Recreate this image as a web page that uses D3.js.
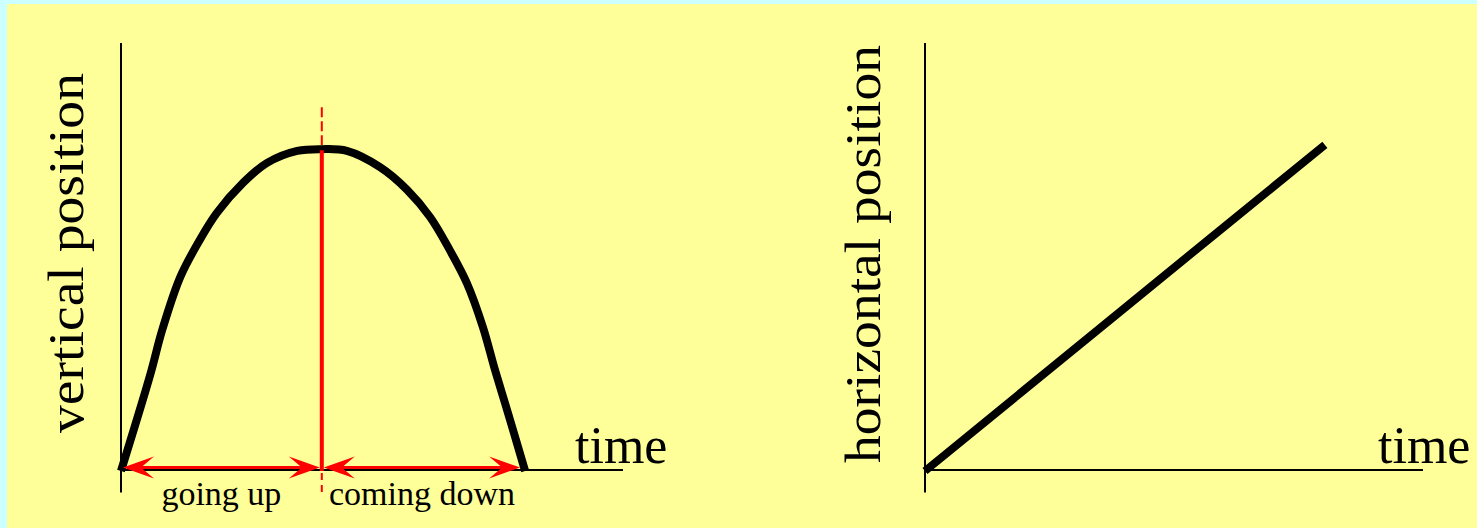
<!DOCTYPE html>
<html>
<head>
<meta charset="utf-8">
<script src="https://cdn.jsdelivr.net/npm/d3@7"></script>
<style>
  html, body { margin: 0; padding: 0; background: #ccffff; }
  svg { display: block; }
  text { font-family: "Liberation Serif", "Times New Roman", serif; fill: #000; }
</style>
</head>
<body>
<svg id="chart" width="1477" height="528"></svg>
<script>
// ---- data ----
// Left panel: vertical position of a thrown object vs time
const upTimes   = [0, 0.58, 0.82, 1.18, 1.57, 1.91, 2.43, 2.91, 3.51, 4.0];
const upValues  = [0, 2.24, 3.29, 4.53, 5.40, 6.03, 6.73, 7.20, 7.48, 7.52];
const downTimes  = [4.0, 4.50, 5.16, 5.70, 6.16, 6.55, 6.89, 7.21, 7.45, 7.69, 8.05];
const downValues = [7.52, 7.48, 7.10, 6.57, 5.93, 5.16, 4.39, 3.36, 2.36, 1.43, 0];
// Right panel: horizontal position vs time
const horizTimes  = [0, 2, 4, 6, 8.03];
const horizValues = [0, 1.9, 3.8, 5.7, 7.62];
// labels
const yLabels = ["vertical position", "horizontal position"];
const xLabel = "time";
const phaseLabels = ["going up", "coming down"];
const peakTime = 4.0;
const landTime = 8.05;

const svg = d3.select("#chart");
const W = 1477, H = 528;

// yellow slide background
svg.append("rect").attr("x", 7).attr("y", 4).attr("width", W - 7).attr("height", H - 4).attr("fill", "#ffff99");

// scales
const xL = d3.scaleLinear().domain([0, 10]).range([121, 623]);
const xR = d3.scaleLinear().domain([0, 10]).range([925, 1423]);
const y  = d3.scaleLinear().domain([0, 10]).range([471, 43]);

const curve = d3.line().x(d => d[0]).y(d => d[1]).curve(d3.curveCatmullRom.alpha(0.5));

function axes(x) {
  const g = svg.append("g");
  g.append("line").attr("x1", x(0)).attr("x2", x(0)).attr("y1", y(10)).attr("y2", y(-0.5))
    .attr("stroke", "#000").attr("stroke-width", 2);
  g.append("line").attr("x1", x(0)).attr("x2", x(10)).attr("y1", y(0) - 1).attr("y2", y(0) - 1)
    .attr("stroke", "#000").attr("stroke-width", 2);
}
axes(xL);
axes(xR);

// ---- left panel ----
const red = "#ff0000";
const peakV = upValues[upValues.length - 1];
svg.append("line").attr("x1", xL(peakTime)).attr("x2", xL(peakTime))
  .attr("y1", y(8.5)).attr("y2", y(peakV)).attr("stroke", red).attr("stroke-width", 2)
  .attr("stroke-dasharray", "10,4");
svg.append("line").attr("x1", xL(peakTime)).attr("x2", xL(peakTime))
  .attr("y1", y(0)).attr("y2", y(-0.5)).attr("stroke", red).attr("stroke-width", 2)
  .attr("stroke-dasharray", "7,5").attr("stroke-dashoffset", -2);

// trajectory
const traj = upTimes.map((t, i) => [xL(t), y(upValues[i])])
  .concat(downTimes.slice(1).map((t, i) => [xL(t), y(downValues[i + 1])]));
svg.append("path").attr("d", curve(traj)).attr("fill", "none")
  .attr("stroke", "#000").attr("stroke-width", 8).attr("stroke-linejoin", "round");

svg.append("line").attr("x1", xL(peakTime)).attr("x2", xL(peakTime))
  .attr("y1", y(peakV) + 1).attr("y2", y(0)).attr("stroke", red).attr("stroke-width", 4);

// double arrows
function arrowHead(xTip, yy, dir) {
  const L = 31, Wd = 11, notch = 18;
  const p = [[xTip, yy], [xTip + dir * L, yy - Wd], [xTip + dir * notch, yy], [xTip + dir * L, yy + Wd]];
  svg.append("path").attr("d", "M" + p.map(q => q.join(",")).join("L") + "Z").attr("fill", red);
}
const arrowY = y(0) - 3.5;
[[0, peakTime], [peakTime, landTime]].forEach(([a, b], i) => {
  const x1 = xL(a) + 2, x2 = xL(b) - (i === 0 ? 2 : 5);
  svg.append("line").attr("x1", x1 + 10).attr("x2", x2 - 10).attr("y1", arrowY).attr("y2", arrowY)
    .attr("stroke", red).attr("stroke-width", 3);
  arrowHead(x1, arrowY, 1);
  arrowHead(x2, arrowY, -1);
  svg.append("text").attr("x", (x1 + x2) / 2).attr("y", 505).attr("text-anchor", "middle")
    .attr("font-size", 34).text(phaseLabels[i]);
});

// ---- right panel ----
svg.append("path").attr("d", d3.line()(horizTimes.map((t, i) => [xR(t), y(horizValues[i])])))
  .attr("fill", "none").attr("stroke", "#000").attr("stroke-width", 8).attr("stroke-linecap", "butt");

// ---- labels ----
svg.append("text").attr("transform", "translate(83,253) rotate(-90)").attr("text-anchor", "middle")
  .attr("font-size", 50).attr("textLength", 360).attr("lengthAdjust", "spacingAndGlyphs").text(yLabels[0]);
svg.append("text").attr("transform", "translate(880,254) rotate(-90)").attr("text-anchor", "middle")
  .attr("font-size", 50).attr("textLength", 418).attr("lengthAdjust", "spacingAndGlyphs").text(yLabels[1]);
svg.append("text").attr("x", 575).attr("y", 463).attr("font-size", 52).text(xLabel);
svg.append("text").attr("x", 1378).attr("y", 463).attr("font-size", 52).text(xLabel);
</script>
</body>
</html>
